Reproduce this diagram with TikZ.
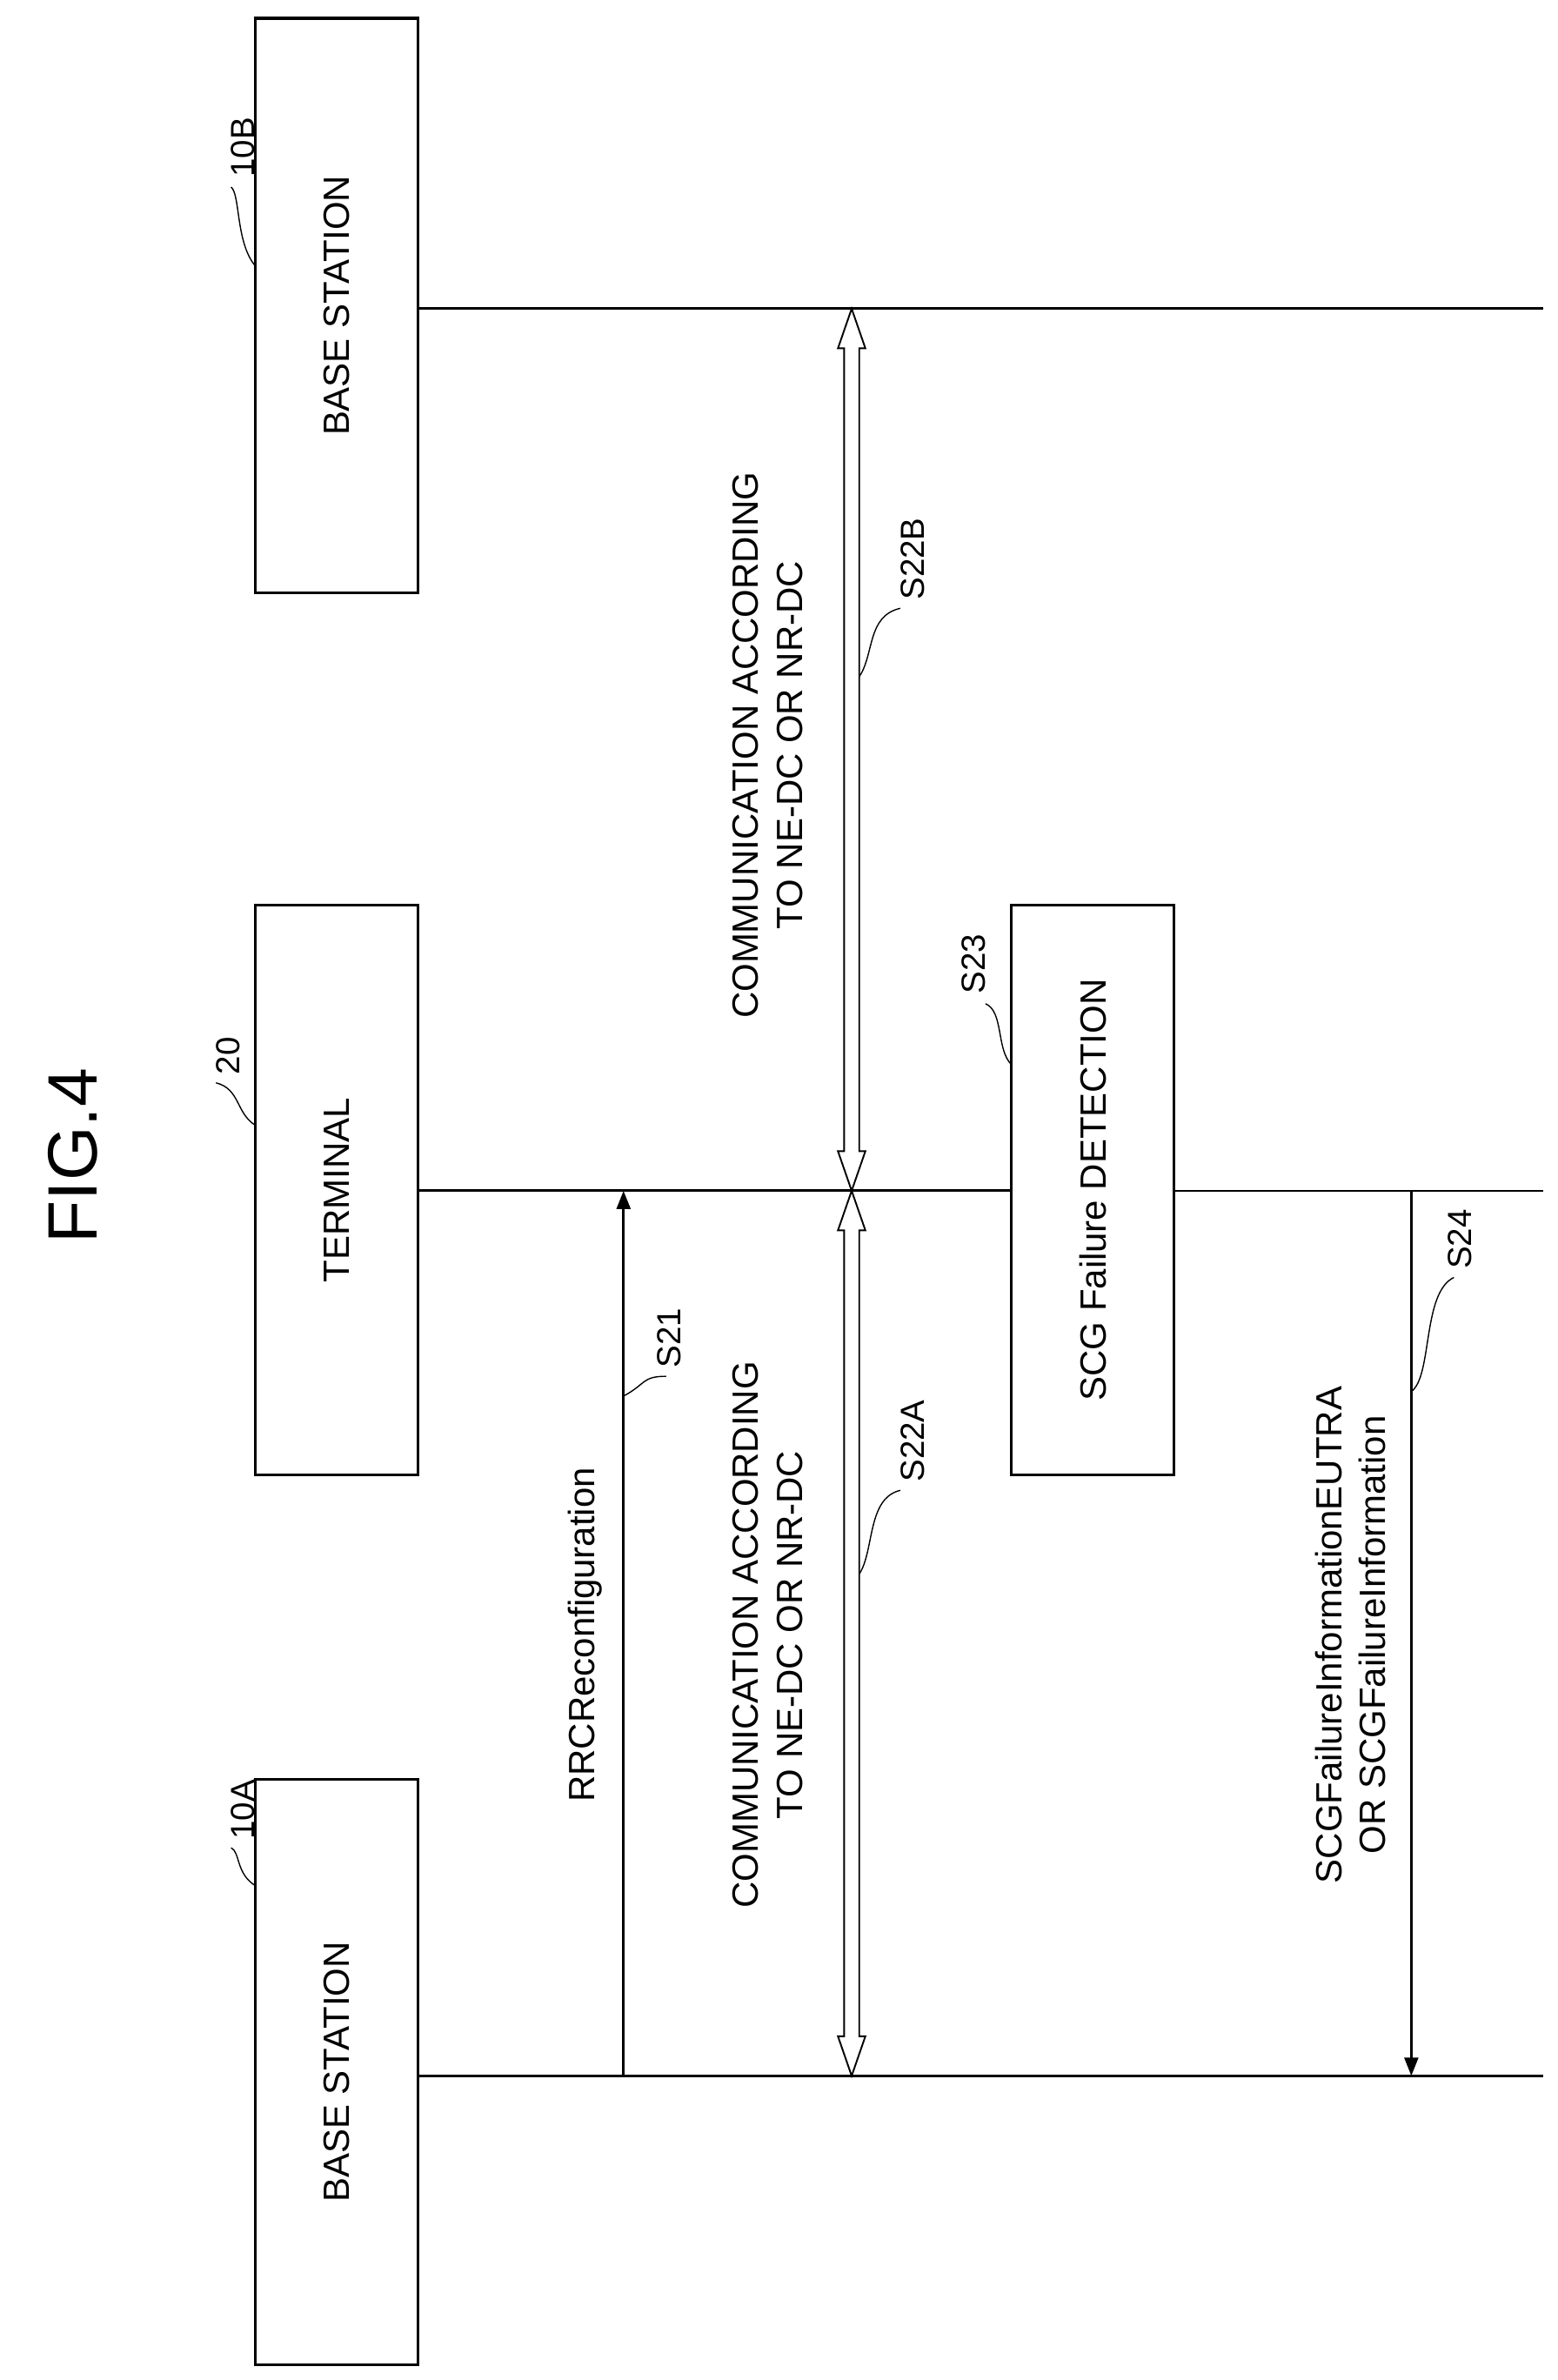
\documentclass[tikz,border=0pt]{standalone}
\usepackage{fontspec}
\setmainfont{Liberation Sans}
\usetikzlibrary{arrows.meta}
\begin{document}
\begin{tikzpicture}[x=1pt,y=-1pt,
  box/.style={draw,line width=1.8pt,minimum width=107pt,inner sep=0pt},
  txt/.style={rotate=90,font=\fontsize{24}{29}\selectfont,align=center},
  lbl/.style={rotate=90,font=\fontsize{22}{26}\selectfont,anchor=west},
  life/.style={line width=1.8pt},
  lead/.style={line width=0.8pt},
  msg/.style={line width=1.8pt,-{Triangle[length=12pt,width=9pt]}},
  hol/.style={line width=1.1pt,fill=white}]
\useasboundingbox (0,0) rectangle (1024,1565);
\node[rotate=90,font=\fontsize{46}{54}\selectfont] (fig) at (48,760) {FIG.4};
% boxes
\node[box,minimum height=385pt] (bsA) at (221.5,1362.5) {};
\node[txt] at (bsA.center) {BASE STATION};
\node[box,minimum height=375pt] (term) at (221.5,782.5) {};
\node[txt] at (term.center) {TERMINAL};
\node[box,minimum height=378pt] (bsB) at (221.5,201) {};
\node[txt] at (bsB.center) {BASE STATION};
\node[box,minimum height=375pt] (scg) at (718.5,782.5) {};
\node[txt] at (scg.center) {SCG Failure DETECTION};
% lifelines
\coordinate (eA) at (1015,1365);
\coordinate (eT) at (1015,783);
\coordinate (eB) at (1015,203);
\draw[life] (bsA.east |- eA) -- (eA);
\draw[life] (bsB.east |- eB) -- (eB);
\draw[life] (term.east |- eT) -- (scg.west |- eT);
\draw[line width=1.3pt] (scg.east |- eT) -- (eT);
% S21
\coordinate (s21a) at (410,1365);
\coordinate (s21b) at (410,783);
\draw[msg] (s21a) -- (s21b);
\node[txt] at (385,1075) {RRCReconfiguration};
\node[lbl] (l21) at (440,903) {S21};
\draw[lead] (410,918) .. controls (425,910) and (422,905) .. (438,905);
% S24
\coordinate (s24a) at (928,783);
\coordinate (s24b) at (928,1365);
\draw[msg] (s24a) -- (s24b);
\node[txt] at (888,1075) {SCGFailureInformationEUTRA\\OR SCGFailureInformation};
\node[lbl] (l24) at (960,838) {S24};
\draw[lead] (928,915) .. controls (942,905) and (935,850) .. (956,840);
% S22A / S22B hollow double arrows
\foreach \ya/\yb in {783/1365, 203/783}{
  \draw[hol] (560,\ya) -- (569,\ya+26) -- (565,\ya+26) -- (565,\yb-26) -- (569,\yb-26)
    -- (560,\yb) -- (551,\yb-26) -- (555,\yb-26) -- (555,\ya+26) -- (551,\ya+26) -- cycle;
}
\node[txt] at (505,1075) {COMMUNICATION ACCORDING\\TO NE-DC OR NR-DC};
\node[txt] at (505,490) {COMMUNICATION ACCORDING\\TO NE-DC OR NR-DC};
\node[lbl] (l22a) at (600,978) {S22A};
\draw[lead] (565,1035) .. controls (575,1020) and (570,985) .. (592,980);
\node[lbl] (l22b) at (600,398) {S22B};
\draw[lead] (565,445) .. controls (575,430) and (570,405) .. (592,400);
% S23
\node[lbl] (l23) at (640,657) {S23};
\draw[lead] (665,700) .. controls (655,690) and (660,665) .. (648,660);
% ids
\node[lbl] (i10A) at (160,1213) {10A};
\draw[lead] (168,1240) .. controls (155,1232) and (158,1218) .. (152,1215);
\node[lbl] (i20) at (150,710) {20};
\draw[lead] (168,740) .. controls (155,732) and (158,716) .. (142,712);
\node[lbl] (i10B) at (160,120) {10B};
\draw[lead] (168,175) .. controls (155,160) and (158,128) .. (152,123);
\end{tikzpicture}
\end{document}
